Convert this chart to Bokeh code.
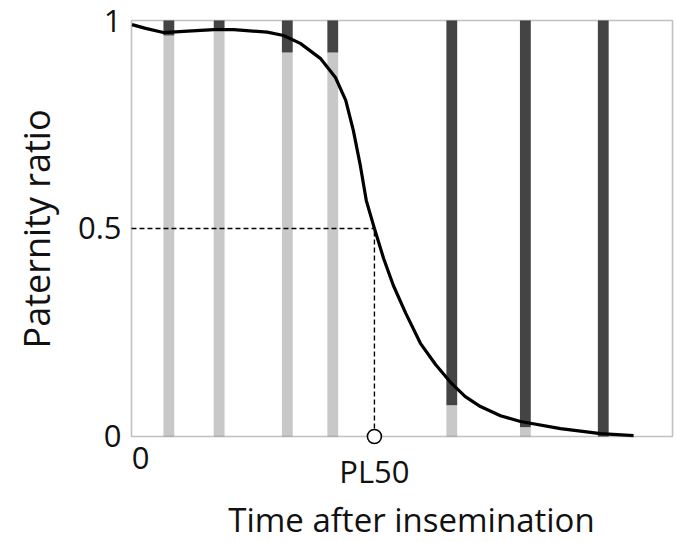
from bokeh.plotting import figure
from bokeh.models import Range1d, FixedTicker, Label, BoxAnnotation, Title
from bokeh.embed import file_html
from bokeh.resources import INLINE

# ---- data ----
bar_t = [0.52, 1.45, 2.71, 3.55, 5.75, 7.11, 8.55]
bar_split = [0.964, 0.978, 0.923, 0.923, 0.075, 0.022, 0.0]

curve_t = [-0.16, 0.09, 0.42, 0.79, 1.35, 1.72, 2.34, 2.64, 2.95, 3.32, 3.60,
           3.79, 3.93, 4.06, 4.17, 4.32, 4.49, 4.67, 4.90, 5.17, 5.45, 5.75,
           6.00, 6.28, 6.65, 7.02, 7.76, 8.50, 9.11]
curve_ratio = [0.990, 0.981, 0.971, 0.974, 0.978, 0.978, 0.972, 0.964, 0.945,
               0.909, 0.863, 0.808, 0.736, 0.651, 0.567, 0.500, 0.428, 0.363,
               0.296, 0.224, 0.173, 0.127, 0.096, 0.072, 0.050, 0.036, 0.019,
               0.007, 0.002]

pl50 = 4.32
t_start = -0.17
t_end = 9.83
y_ticks = [0, 0.5, 1]
y_tick_labels = {0: "0", 0.5: "0.5", 1: "1"}
x_tick_t = [0, pl50]
x_tick_labels = ["0", "PL50"]

FONT = "Open Sans"
FS = "31px"
LIGHT = "#c8c8c8"
DARK = "#444444"
TXT = "#111111"

p = figure(width=677, height=542, output_backend="svg", toolbar_location=None,
           x_range=Range1d(-0.2255, 9.922), y_range=Range1d(-0.25481, 1.01202),
           min_border_left=128, min_border_right=0, min_border_top=15,
           min_border_bottom=0)
p.outline_line_color = None
p.grid.visible = False
p.xaxis.visible = False

# y axis
ya = p.yaxis[0]
ya.ticker = FixedTicker(ticks=y_ticks)
ya.major_label_overrides = y_tick_labels
ya.axis_line_color = None
ya.major_tick_line_color = None
ya.minor_tick_line_color = None
ya.major_tick_out = 0
ya.major_tick_in = 0
ya.major_label_standoff = 7
ya.major_label_text_font = FONT
ya.major_label_text_font_size = FS
ya.major_label_text_color = TXT

p.add_layout(Title(text="Paternity ratio", align="left", vertical_align="top",
                   offset=194, text_font=FONT, text_font_size="36px",
                   text_font_style="normal", text_color=TXT, standoff=23), "left")

# bars (stripes)
p.vbar(x=bar_t, bottom=0, top=bar_split, width=0.2, fill_color=LIGHT, line_color=None)
p.vbar(x=bar_t, bottom=bar_split, top=1, width=0.2, fill_color=DARK, line_color=None)

# dashed guides
p.line(x=[t_start, pl50], y=[0.5, 0.5], line_color="black", line_width=1.4, line_dash="5 3")
p.line(x=[pl50, pl50], y=[0, 0.5], line_color="black", line_width=1.4, line_dash="5 3")

# curve
p.line(x=curve_t, y=curve_ratio, line_color="black", line_width=3.2)

# frame
p.add_layout(BoxAnnotation(left=t_start, right=t_end, bottom=0, top=1,
                           fill_color=None, line_color="#333333", line_width=1.6))

# PL50 marker
p.scatter(x=[pl50], y=[0], size=14, fill_color="white", line_color="black",
          line_width=1.6, level="overlay")

# x labels
x_label_y = [-0.0505, -0.0841]
for t, lab, yy in zip(x_tick_t, x_tick_labels, x_label_y):
    p.add_layout(Label(x=t, y=yy, text=lab, text_font=FONT, text_font_size=FS,
                       text_align="center", text_baseline="middle", text_color=TXT))

p.add_layout(Label(x=5.005, y=-0.1995, text="Time after insemination", text_font=FONT,
                   text_font_size="33px", text_align="center", text_baseline="middle",
                   text_color=TXT))

open("out.html", "w").write(file_html(p, INLINE))
